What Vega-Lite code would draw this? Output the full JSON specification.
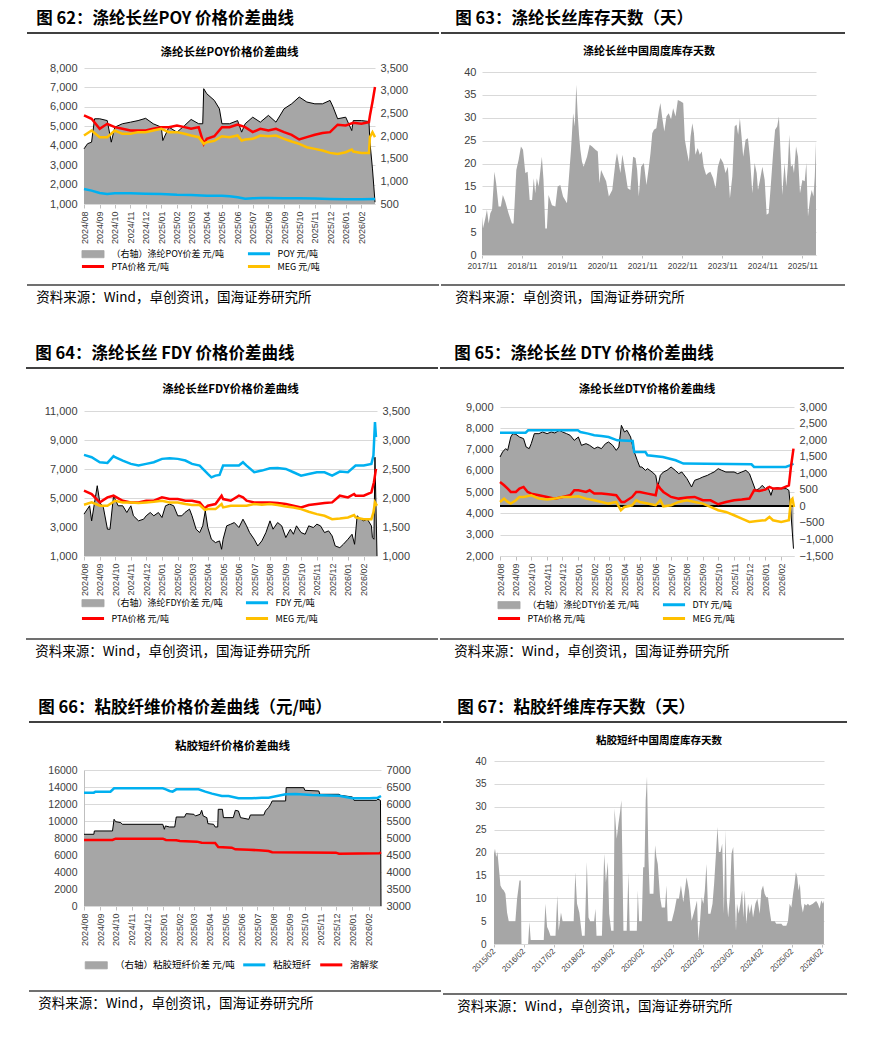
{
"$schema": "https://vega.github.io/schema/vega-lite/v6.json",
"background": "white",
"padding": {"left": 25, "top": 10, "right": 0, "bottom": 0},
"config": {
 "view": {"stroke": null},
 "font": "Liberation Sans",
 "axis": {"labelFont": "Liberation Sans", "labelColor": "#404040", "labelFontSize": 11, "ticks": false, "domain": false, "grid": false, "labelOverlap": false},
 "title": {"font": "Noto Sans CJK SC", "color": "#000000"},
 "legend": {"orient": "bottom", "direction": "horizontal", "symbolSize": 169, "symbolOffset": 4.5, "labelOffset": 14, "labelFont": "Noto Sans CJK SC", "labelFontSize": 9, "labelColor": "#000000", "labelLimit": 400, "rowPadding": 0, "columnPadding": 16, "offset": 10}
},
"datasets": {
 "poy_s": [{"d":"2024-08-01","v":1716},{"d":"2024-08-08","v":1830},{"d":"2024-08-16","v":1864},{"d":"2024-08-22","v":2380},{"d":"2024-09-01","v":2380},{"d":"2024-09-16","v":2340},{"d":"2024-09-24","v":1864},{"d":"2024-10-01","v":2195},{"d":"2024-10-16","v":2270},{"d":"2024-11-01","v":2305},{"d":"2024-11-16","v":2340},{"d":"2024-12-01","v":2390},{"d":"2024-12-16","v":2270},{"d":"2025-01-01","v":2195},{"d":"2025-01-04","v":1900},{"d":"2025-01-16","v":2195},{"d":"2025-02-01","v":2085},{"d":"2025-02-16","v":2230},{"d":"2025-03-01","v":2365},{"d":"2025-03-16","v":2270},{"d":"2025-03-24","v":2270},{"d":"2025-03-26","v":3043},{"d":"2025-04-01","v":2932},{"d":"2025-04-16","v":2785},{"d":"2025-04-26","v":2600},{"d":"2025-05-01","v":2270},{"d":"2025-05-16","v":2270},{"d":"2025-06-01","v":2340},{"d":"2025-06-09","v":2085},{"d":"2025-06-16","v":2270},{"d":"2025-07-01","v":2415},{"d":"2025-07-16","v":2305},{"d":"2025-08-01","v":2455},{"d":"2025-08-16","v":2305},{"d":"2025-09-01","v":2600},{"d":"2025-09-16","v":2710},{"d":"2025-10-01","v":2860},{"d":"2025-10-16","v":2750},{"d":"2025-11-01","v":2710},{"d":"2025-11-16","v":2710},{"d":"2025-12-01","v":2785},{"d":"2025-12-07","v":2640},{"d":"2025-12-16","v":2380},{"d":"2026-01-01","v":2415},{"d":"2026-01-13","v":2120},{"d":"2026-01-16","v":2340},{"d":"2026-02-01","v":2340},{"d":"2026-02-16","v":2320},{"d":"2026-02-18","v":1864},{"d":"2026-02-23","v":1274},{"d":"2026-02-28","v":540}],
 "poy_p": [{"d":"2024-08-01","v":1774},{"d":"2024-08-16","v":1688},{"d":"2024-09-01","v":1567},{"d":"2024-09-16","v":1516},{"d":"2024-10-01","v":1550},{"d":"2024-11-01","v":1550},{"d":"2024-12-01","v":1530},{"d":"2025-01-01","v":1516},{"d":"2025-02-01","v":1470},{"d":"2025-03-01","v":1464},{"d":"2025-04-01","v":1430},{"d":"2025-05-01","v":1430},{"d":"2025-05-16","v":1400},{"d":"2025-06-01","v":1350},{"d":"2025-06-16","v":1270},{"d":"2025-07-01","v":1290},{"d":"2025-07-16","v":1310},{"d":"2025-08-01","v":1310},{"d":"2025-09-01","v":1300},{"d":"2025-10-01","v":1290},{"d":"2025-11-01","v":1280},{"d":"2025-12-01","v":1258},{"d":"2026-01-01","v":1240},{"d":"2026-02-01","v":1240},{"d":"2026-02-28","v":1258}],
 "poy_pta": [{"d":"2024-08-01","v":5558},{"d":"2024-08-16","v":5386},{"d":"2024-09-01","v":4870},{"d":"2024-09-16","v":5128},{"d":"2024-10-01","v":4956},{"d":"2024-10-16","v":4870},{"d":"2024-11-01","v":4784},{"d":"2024-11-16","v":4784},{"d":"2024-12-01","v":4784},{"d":"2024-12-16","v":4870},{"d":"2025-01-01","v":4956},{"d":"2025-01-16","v":4956},{"d":"2025-02-01","v":5042},{"d":"2025-02-16","v":4956},{"d":"2025-03-01","v":4870},{"d":"2025-03-16","v":4956},{"d":"2025-03-26","v":4096},{"d":"2025-04-01","v":4354},{"d":"2025-04-16","v":4490},{"d":"2025-05-01","v":4956},{"d":"2025-05-16","v":4956},{"d":"2025-06-01","v":5090},{"d":"2025-06-16","v":4956},{"d":"2025-07-01","v":4698},{"d":"2025-07-16","v":4870},{"d":"2025-08-01","v":4784},{"d":"2025-08-16","v":4870},{"d":"2025-09-01","v":4698},{"d":"2025-09-16","v":4560},{"d":"2025-10-01","v":4320},{"d":"2025-10-16","v":4440},{"d":"2025-11-01","v":4560},{"d":"2025-11-16","v":4650},{"d":"2025-12-01","v":4698},{"d":"2025-12-16","v":5080},{"d":"2026-01-01","v":5042},{"d":"2026-01-16","v":5180},{"d":"2026-02-01","v":5128},{"d":"2026-02-16","v":5214},{"d":"2026-02-18","v":5558},{"d":"2026-02-23","v":6246},{"d":"2026-02-28","v":7020}],
 "poy_meg": [{"d":"2024-08-01","v":4526},{"d":"2024-08-16","v":4784},{"d":"2024-09-01","v":4440},{"d":"2024-09-16","v":4440},{"d":"2024-10-01","v":4784},{"d":"2024-10-16","v":4612},{"d":"2024-11-01","v":4612},{"d":"2024-11-16","v":4698},{"d":"2024-12-01","v":4698},{"d":"2024-12-16","v":4784},{"d":"2025-01-01","v":4870},{"d":"2025-01-16","v":4698},{"d":"2025-02-01","v":4698},{"d":"2025-02-16","v":4612},{"d":"2025-03-01","v":4526},{"d":"2025-03-16","v":4440},{"d":"2025-03-26","v":4096},{"d":"2025-04-01","v":4182},{"d":"2025-04-16","v":4250},{"d":"2025-05-01","v":4490},{"d":"2025-05-16","v":4440},{"d":"2025-06-01","v":4526},{"d":"2025-06-09","v":4268},{"d":"2025-06-16","v":4320},{"d":"2025-07-01","v":4354},{"d":"2025-07-16","v":4526},{"d":"2025-08-01","v":4490},{"d":"2025-08-16","v":4526},{"d":"2025-09-01","v":4354},{"d":"2025-09-16","v":4215},{"d":"2025-10-01","v":4096},{"d":"2025-10-16","v":3924},{"d":"2025-11-01","v":3838},{"d":"2025-11-16","v":3752},{"d":"2025-12-01","v":3631},{"d":"2025-12-16","v":3580},{"d":"2026-01-01","v":3666},{"d":"2026-01-13","v":3803},{"d":"2026-01-16","v":3700},{"d":"2026-02-01","v":3631},{"d":"2026-02-16","v":3631},{"d":"2026-02-18","v":4440},{"d":"2026-02-23","v":4698},{"d":"2026-02-28","v":4440}],
 "inv1": [{"d":"2017-11-01","v":8.4},{"d":"2017-11-10","v":5.8},{"d":"2017-12-01","v":8},{"d":"2017-12-16","v":9.9},{"d":"2018-01-01","v":6.9},{"d":"2018-01-16","v":9.1},{"d":"2018-02-01","v":9.9},{"d":"2018-02-22","v":18.2},{"d":"2018-03-10","v":15.7},{"d":"2018-04-01","v":10.6},{"d":"2018-04-22","v":10.6},{"d":"2018-05-10","v":13.1},{"d":"2018-06-01","v":11.7},{"d":"2018-07-01","v":9.1},{"d":"2018-08-01","v":6.9},{"d":"2018-08-16","v":6.9},{"d":"2018-09-10","v":18.6},{"d":"2018-10-01","v":20.8},{"d":"2018-10-22","v":23.7},{"d":"2018-11-10","v":23},{"d":"2018-12-01","v":17.9},{"d":"2018-12-22","v":18.2},{"d":"2019-01-10","v":12},{"d":"2019-02-01","v":12},{"d":"2019-02-16","v":16.8},{"d":"2019-03-01","v":13.5},{"d":"2019-03-16","v":16.8},{"d":"2019-04-01","v":15},{"d":"2019-05-01","v":21.5},{"d":"2019-05-16","v":16.4},{"d":"2019-06-01","v":5.8},{"d":"2019-06-16","v":5.8},{"d":"2019-07-01","v":13.1},{"d":"2019-08-01","v":10.9},{"d":"2019-09-01","v":10.6},{"d":"2019-09-22","v":15},{"d":"2019-10-16","v":15.3},{"d":"2019-11-10","v":12.8},{"d":"2019-12-16","v":11.3},{"d":"2020-01-10","v":19.3},{"d":"2020-01-22","v":23},{"d":"2020-02-10","v":31},{"d":"2020-02-25","v":28.1},{"d":"2020-03-10","v":37.2},{"d":"2020-03-22","v":31},{"d":"2020-04-04","v":26.3},{"d":"2020-04-16","v":23},{"d":"2020-05-01","v":20.4},{"d":"2020-05-16","v":19.3},{"d":"2020-06-16","v":21.5},{"d":"2020-07-10","v":24.1},{"d":"2020-08-01","v":23.7},{"d":"2020-09-01","v":23},{"d":"2020-09-22","v":22.6},{"d":"2020-10-07","v":15.7},{"d":"2020-10-22","v":18.6},{"d":"2020-11-16","v":17.2},{"d":"2020-12-07","v":16.1},{"d":"2021-01-01","v":12.8},{"d":"2021-02-01","v":14.2},{"d":"2021-03-01","v":20.1},{"d":"2021-03-16","v":22.3},{"d":"2021-04-16","v":17.9},{"d":"2021-05-04","v":21.9},{"d":"2021-06-01","v":17.9},{"d":"2021-06-22","v":14.6},{"d":"2021-07-16","v":14.2},{"d":"2021-08-10","v":21.5},{"d":"2021-09-01","v":21.2},{"d":"2021-09-16","v":18.6},{"d":"2021-10-01","v":12.8},{"d":"2021-10-22","v":19.3},{"d":"2021-11-16","v":20.1},{"d":"2021-12-10","v":15.3},{"d":"2022-01-01","v":19.3},{"d":"2022-01-16","v":22.3},{"d":"2022-02-01","v":26.6},{"d":"2022-02-16","v":27.4},{"d":"2022-03-10","v":27.7},{"d":"2022-04-01","v":31.4},{"d":"2022-04-16","v":33.2},{"d":"2022-05-01","v":30.3},{"d":"2022-05-22","v":27},{"d":"2022-06-10","v":30.3},{"d":"2022-07-01","v":31},{"d":"2022-07-22","v":29.6},{"d":"2022-08-10","v":32.1},{"d":"2022-09-01","v":30.3},{"d":"2022-09-22","v":33.9},{"d":"2022-10-16","v":33.6},{"d":"2022-11-10","v":33.2},{"d":"2022-11-25","v":25.2},{"d":"2022-12-16","v":22.3},{"d":"2023-01-01","v":20.4},{"d":"2023-01-16","v":25.9},{"d":"2023-02-01","v":28.8},{"d":"2023-02-16","v":26.6},{"d":"2023-03-01","v":21.9},{"d":"2023-03-22","v":23.4},{"d":"2023-04-10","v":21.9},{"d":"2023-04-28","v":22.6},{"d":"2023-05-16","v":19.3},{"d":"2023-06-07","v":17.5},{"d":"2023-06-25","v":17.9},{"d":"2023-07-16","v":18.2},{"d":"2023-08-10","v":16.8},{"d":"2023-09-01","v":14.6},{"d":"2023-09-22","v":19.3},{"d":"2023-10-16","v":21.2},{"d":"2023-11-10","v":20.1},{"d":"2023-12-01","v":17.9},{"d":"2023-12-22","v":19.3},{"d":"2024-01-10","v":12.4},{"d":"2024-02-01","v":17.2},{"d":"2024-02-22","v":28.1},{"d":"2024-03-10","v":28.5},{"d":"2024-03-25","v":26.3},{"d":"2024-04-10","v":29.9},{"d":"2024-04-25","v":25.9},{"d":"2024-05-10","v":21.5},{"d":"2024-06-01","v":25.2},{"d":"2024-06-22","v":25.5},{"d":"2024-07-10","v":21.5},{"d":"2024-08-01","v":13.5},{"d":"2024-08-22","v":20.1},{"d":"2024-09-10","v":17.9},{"d":"2024-09-22","v":14.2},{"d":"2024-10-10","v":16.4},{"d":"2024-11-01","v":19.3},{"d":"2024-11-22","v":16.4},{"d":"2024-12-10","v":8.8},{"d":"2024-12-28","v":9.1},{"d":"2025-01-16","v":15},{"d":"2025-02-07","v":22.3},{"d":"2025-02-25","v":27.4},{"d":"2025-03-16","v":28.1},{"d":"2025-04-01","v":30.3},{"d":"2025-04-16","v":22.3},{"d":"2025-05-01","v":13.1},{"d":"2025-05-22","v":20.1},{"d":"2025-06-07","v":15},{"d":"2025-06-22","v":19.7},{"d":"2025-07-04","v":26.3},{"d":"2025-07-19","v":19.3},{"d":"2025-08-04","v":19.7},{"d":"2025-08-16","v":17.9},{"d":"2025-09-04","v":23.7},{"d":"2025-09-22","v":21.5},{"d":"2025-10-10","v":13.5},{"d":"2025-11-01","v":16.4},{"d":"2025-11-22","v":16.1},{"d":"2025-12-07","v":20.1},{"d":"2025-12-22","v":8.4},{"d":"2026-01-10","v":12.4},{"d":"2026-01-25","v":14.2},{"d":"2026-02-10","v":12.8},{"d":"2026-02-22","v":17.2},{"d":"2026-03-05","v":24.8}],
 "fdy_s": [{"d":"2024-08-01","v":1722},{"d":"2024-08-12","v":1866},{"d":"2024-08-16","v":1606},{"d":"2024-08-27","v":2212},{"d":"2024-09-01","v":1924},{"d":"2024-09-08","v":1837},{"d":"2024-09-16","v":1462},{"d":"2024-09-21","v":1462},{"d":"2024-09-28","v":2040},{"d":"2024-10-01","v":1982},{"d":"2024-10-07","v":1866},{"d":"2024-10-16","v":1866},{"d":"2024-10-24","v":1750},{"d":"2024-11-01","v":1866},{"d":"2024-11-06","v":1693},{"d":"2024-11-16","v":1606},{"d":"2024-11-26","v":1635},{"d":"2024-12-01","v":1693},{"d":"2024-12-09","v":1750},{"d":"2024-12-16","v":1693},{"d":"2024-12-25","v":1750},{"d":"2025-01-01","v":1664},{"d":"2025-01-08","v":1866},{"d":"2025-01-16","v":1895},{"d":"2025-01-24","v":1866},{"d":"2025-02-01","v":1693},{"d":"2025-02-09","v":1693},{"d":"2025-02-15","v":1750},{"d":"2025-02-24","v":1808},{"d":"2025-03-01","v":1693},{"d":"2025-03-09","v":1462},{"d":"2025-03-16","v":1404},{"d":"2025-03-22","v":1520},{"d":"2025-03-27","v":1779},{"d":"2025-04-01","v":1491},{"d":"2025-04-08","v":1289},{"d":"2025-04-16","v":1231},{"d":"2025-04-24","v":1260},{"d":"2025-04-28","v":1116},{"d":"2025-05-01","v":1289},{"d":"2025-05-08","v":1520},{"d":"2025-05-16","v":1549},{"d":"2025-05-23","v":1577},{"d":"2025-06-01","v":1491},{"d":"2025-06-09","v":1635},{"d":"2025-06-16","v":1520},{"d":"2025-06-22","v":1404},{"d":"2025-07-01","v":1289},{"d":"2025-07-08","v":1173},{"d":"2025-07-16","v":1260},{"d":"2025-07-24","v":1404},{"d":"2025-08-01","v":1606},{"d":"2025-08-07","v":1462},{"d":"2025-08-16","v":1577},{"d":"2025-08-24","v":1520},{"d":"2025-09-01","v":1318},{"d":"2025-09-10","v":1462},{"d":"2025-09-16","v":1375},{"d":"2025-09-22","v":1520},{"d":"2025-10-01","v":1404},{"d":"2025-10-09","v":1375},{"d":"2025-10-16","v":1520},{"d":"2025-10-25","v":1491},{"d":"2025-11-01","v":1549},{"d":"2025-11-08","v":1520},{"d":"2025-11-16","v":1404},{"d":"2025-11-24","v":1433},{"d":"2025-12-01","v":1346},{"d":"2025-12-07","v":1173},{"d":"2025-12-16","v":1144},{"d":"2025-12-23","v":1202},{"d":"2026-01-01","v":1289},{"d":"2026-01-09","v":1375},{"d":"2026-01-14","v":1202},{"d":"2026-01-19","v":1693},{"d":"2026-01-26","v":1635},{"d":"2026-02-01","v":1606},{"d":"2026-02-08","v":1635},{"d":"2026-02-16","v":1520},{"d":"2026-02-18","v":1318},{"d":"2026-02-21","v":1289},{"d":"2026-02-23","v":2703},{"d":"2026-02-25","v":1866},{"d":"2026-02-27","v":1000}],
 "fdy_p": [{"d":"2024-08-01","v":7975},{"d":"2024-08-16","v":7814},{"d":"2024-09-01","v":7467},{"d":"2024-09-16","v":7421},{"d":"2024-09-28","v":7883},{"d":"2024-10-01","v":7814},{"d":"2024-10-16","v":7583},{"d":"2024-11-01","v":7352},{"d":"2024-11-16","v":7236},{"d":"2024-12-01","v":7352},{"d":"2024-12-16","v":7467},{"d":"2025-01-01","v":7698},{"d":"2025-01-16","v":7744},{"d":"2025-02-01","v":7698},{"d":"2025-02-16","v":7583},{"d":"2025-03-01","v":7352},{"d":"2025-03-16","v":7236},{"d":"2025-04-01","v":6659},{"d":"2025-04-08","v":6428},{"d":"2025-04-16","v":6544},{"d":"2025-04-24","v":6590},{"d":"2025-05-01","v":7236},{"d":"2025-05-16","v":7236},{"d":"2025-06-01","v":7236},{"d":"2025-06-09","v":7467},{"d":"2025-06-16","v":7236},{"d":"2025-07-01","v":6775},{"d":"2025-07-16","v":6890},{"d":"2025-08-01","v":7052},{"d":"2025-08-16","v":7075},{"d":"2025-09-01","v":7005},{"d":"2025-09-16","v":6775},{"d":"2025-10-01","v":6544},{"d":"2025-10-16","v":6659},{"d":"2025-11-01","v":6775},{"d":"2025-11-16","v":6775},{"d":"2025-12-01","v":6544},{"d":"2025-12-16","v":6821},{"d":"2026-01-01","v":6775},{"d":"2026-01-16","v":7236},{"d":"2026-02-01","v":7236},{"d":"2026-02-16","v":7352},{"d":"2026-02-20","v":7929},{"d":"2026-02-23","v":10238},{"d":"2026-02-25","v":9200}],
 "fdy_pta": [{"d":"2024-08-01","v":5504},{"d":"2024-08-16","v":5274},{"d":"2024-09-01","v":4696},{"d":"2024-09-16","v":5043},{"d":"2024-09-28","v":5158},{"d":"2024-10-16","v":4812},{"d":"2024-11-01","v":4696},{"d":"2024-11-16","v":4696},{"d":"2024-12-01","v":4812},{"d":"2024-12-16","v":4812},{"d":"2025-01-01","v":5043},{"d":"2025-01-16","v":4927},{"d":"2025-02-01","v":4927},{"d":"2025-02-16","v":4812},{"d":"2025-03-01","v":4812},{"d":"2025-03-16","v":4696},{"d":"2025-03-26","v":4280},{"d":"2025-04-01","v":4465},{"d":"2025-04-16","v":4581},{"d":"2025-04-28","v":5158},{"d":"2025-05-01","v":4927},{"d":"2025-05-16","v":4812},{"d":"2025-06-01","v":5158},{"d":"2025-06-09","v":5043},{"d":"2025-06-16","v":4812},{"d":"2025-07-01","v":4696},{"d":"2025-07-16","v":4696},{"d":"2025-08-01","v":4696},{"d":"2025-08-16","v":4650},{"d":"2025-09-01","v":4581},{"d":"2025-09-16","v":4465},{"d":"2025-10-01","v":4350},{"d":"2025-10-16","v":4512},{"d":"2025-11-01","v":4581},{"d":"2025-11-16","v":4650},{"d":"2025-12-01","v":4696},{"d":"2025-12-16","v":5158},{"d":"2026-01-01","v":5043},{"d":"2026-01-13","v":5274},{"d":"2026-01-16","v":5158},{"d":"2026-02-01","v":5158},{"d":"2026-02-16","v":5389},{"d":"2026-02-21","v":6082},{"d":"2026-02-25","v":7006}],
 "fdy_meg": [{"d":"2024-08-01","v":4535},{"d":"2024-08-16","v":4696},{"d":"2024-09-01","v":4465},{"d":"2024-09-16","v":4465},{"d":"2024-10-01","v":4812},{"d":"2024-10-16","v":4696},{"d":"2024-11-01","v":4696},{"d":"2024-11-16","v":4650},{"d":"2024-12-01","v":4696},{"d":"2024-12-16","v":4743},{"d":"2025-01-01","v":4812},{"d":"2025-01-16","v":4696},{"d":"2025-02-01","v":4696},{"d":"2025-02-16","v":4581},{"d":"2025-03-01","v":4512},{"d":"2025-03-16","v":4512},{"d":"2025-03-26","v":4188},{"d":"2025-04-01","v":4235},{"d":"2025-04-16","v":4235},{"d":"2025-04-28","v":4581},{"d":"2025-05-01","v":4350},{"d":"2025-05-16","v":4465},{"d":"2025-06-01","v":4465},{"d":"2025-06-16","v":4465},{"d":"2025-07-01","v":4581},{"d":"2025-07-16","v":4535},{"d":"2025-08-01","v":4581},{"d":"2025-08-16","v":4512},{"d":"2025-09-01","v":4419},{"d":"2025-09-16","v":4350},{"d":"2025-10-01","v":4235},{"d":"2025-10-16","v":4050},{"d":"2025-11-01","v":3889},{"d":"2025-11-16","v":3773},{"d":"2025-12-01","v":3542},{"d":"2025-12-16","v":3588},{"d":"2026-01-01","v":3657},{"d":"2026-01-13","v":3819},{"d":"2026-01-16","v":3657},{"d":"2026-02-01","v":3542},{"d":"2026-02-16","v":3542},{"d":"2026-02-20","v":4004},{"d":"2026-02-23","v":4696},{"d":"2026-02-27","v":4465}],
 "dty_s": [{"d":"2024-08-01","v":1490},{"d":"2024-08-06","v":1641},{"d":"2024-08-12","v":1742},{"d":"2024-08-16","v":1691},{"d":"2024-08-22","v":2094},{"d":"2024-08-26","v":2195},{"d":"2024-09-01","v":2175},{"d":"2024-09-08","v":2094},{"d":"2024-09-16","v":2044},{"d":"2024-09-21","v":1792},{"d":"2024-09-27","v":1742},{"d":"2024-10-01","v":1893},{"d":"2024-10-07","v":2195},{"d":"2024-10-16","v":2195},{"d":"2024-10-23","v":2245},{"d":"2024-11-01","v":2195},{"d":"2024-11-09","v":2245},{"d":"2024-11-16","v":2215},{"d":"2024-11-25","v":2295},{"d":"2024-12-01","v":2245},{"d":"2024-12-09","v":2195},{"d":"2024-12-16","v":2144},{"d":"2024-12-24","v":1993},{"d":"2025-01-01","v":2094},{"d":"2025-01-07","v":1842},{"d":"2025-01-16","v":1893},{"d":"2025-01-23","v":1842},{"d":"2025-02-01","v":1742},{"d":"2025-02-08","v":1792},{"d":"2025-02-15","v":1742},{"d":"2025-02-23","v":1893},{"d":"2025-03-01","v":1943},{"d":"2025-03-09","v":1842},{"d":"2025-03-16","v":1691},{"d":"2025-03-21","v":1792},{"d":"2025-03-26","v":2446},{"d":"2025-04-01","v":2245},{"d":"2025-04-06","v":2295},{"d":"2025-04-13","v":2094},{"d":"2025-04-19","v":1691},{"d":"2025-04-26","v":1389},{"d":"2025-05-01","v":1188},{"d":"2025-05-05","v":1188},{"d":"2025-05-12","v":1087},{"d":"2025-05-16","v":1138},{"d":"2025-05-25","v":1037},{"d":"2025-06-01","v":936},{"d":"2025-06-05","v":584},{"d":"2025-06-10","v":936},{"d":"2025-06-16","v":1037},{"d":"2025-06-23","v":1087},{"d":"2025-07-01","v":1188},{"d":"2025-07-09","v":1087},{"d":"2025-07-16","v":987},{"d":"2025-07-22","v":1037},{"d":"2025-08-01","v":836},{"d":"2025-08-10","v":584},{"d":"2025-08-16","v":785},{"d":"2025-08-25","v":836},{"d":"2025-09-01","v":886},{"d":"2025-09-10","v":936},{"d":"2025-09-16","v":987},{"d":"2025-09-23","v":1037},{"d":"2025-10-01","v":1138},{"d":"2025-10-08","v":1087},{"d":"2025-10-16","v":1037},{"d":"2025-10-24","v":1037},{"d":"2025-11-01","v":1037},{"d":"2025-11-08","v":987},{"d":"2025-11-16","v":1037},{"d":"2025-11-24","v":1087},{"d":"2025-12-01","v":987},{"d":"2025-12-07","v":735},{"d":"2025-12-13","v":483},{"d":"2025-12-20","v":534},{"d":"2025-12-26","v":634},{"d":"2026-01-01","v":534},{"d":"2026-01-06","v":584},{"d":"2026-01-12","v":332},{"d":"2026-01-16","v":534},{"d":"2026-01-25","v":564},{"d":"2026-02-01","v":534},{"d":"2026-02-11","v":534},{"d":"2026-02-16","v":483},{"d":"2026-02-19","v":0},{"d":"2026-02-22","v":-624},{"d":"2026-02-25","v":-1278}],
 "dty_p": [{"d":"2024-08-01","v":7795},{"d":"2024-09-20","v":7795},{"d":"2024-09-25","v":7905},{"d":"2024-12-31","v":7905},{"d":"2025-01-05","v":7826},{"d":"2025-01-20","v":7748},{"d":"2025-02-01","v":7670},{"d":"2025-02-15","v":7638},{"d":"2025-03-01","v":7592},{"d":"2025-03-18","v":7435},{"d":"2025-04-17","v":7404},{"d":"2025-04-20","v":6887},{"d":"2025-05-12","v":6887},{"d":"2025-05-16","v":6731},{"d":"2025-06-15","v":6653},{"d":"2025-07-10","v":6496},{"d":"2025-07-25","v":6340},{"d":"2025-12-05","v":6308},{"d":"2025-12-10","v":6183},{"d":"2026-02-10","v":6183},{"d":"2026-02-18","v":6261},{"d":"2026-02-25","v":6340}],
 "dty_pta": [{"d":"2024-08-01","v":5479},{"d":"2024-08-09","v":5322},{"d":"2024-08-16","v":5166},{"d":"2024-08-22","v":5009},{"d":"2024-09-01","v":5009},{"d":"2024-09-08","v":5166},{"d":"2024-09-16","v":5244},{"d":"2024-09-24","v":5009},{"d":"2024-10-01","v":4931},{"d":"2024-10-16","v":4853},{"d":"2024-11-01","v":4775},{"d":"2024-11-16","v":4696},{"d":"2024-12-01","v":4775},{"d":"2024-12-16","v":4853},{"d":"2024-12-24","v":5087},{"d":"2025-01-01","v":5087},{"d":"2025-01-16","v":5009},{"d":"2025-01-23","v":5087},{"d":"2025-02-01","v":4931},{"d":"2025-02-15","v":4931},{"d":"2025-03-01","v":4900},{"d":"2025-03-16","v":4853},{"d":"2025-03-26","v":4540},{"d":"2025-04-01","v":4540},{"d":"2025-04-16","v":4775},{"d":"2025-04-24","v":5009},{"d":"2025-05-01","v":5009},{"d":"2025-05-16","v":4931},{"d":"2025-06-01","v":4853},{"d":"2025-06-05","v":5322},{"d":"2025-06-10","v":5166},{"d":"2025-06-16","v":5009},{"d":"2025-07-01","v":4775},{"d":"2025-07-16","v":4696},{"d":"2025-08-01","v":4743},{"d":"2025-08-16","v":4775},{"d":"2025-09-01","v":4618},{"d":"2025-09-16","v":4618},{"d":"2025-10-01","v":4430},{"d":"2025-10-16","v":4540},{"d":"2025-11-01","v":4618},{"d":"2025-11-16","v":4649},{"d":"2025-12-01","v":4696},{"d":"2025-12-10","v":5087},{"d":"2025-12-20","v":5056},{"d":"2026-01-01","v":5118},{"d":"2026-01-09","v":5244},{"d":"2026-01-16","v":5166},{"d":"2026-02-01","v":5166},{"d":"2026-02-16","v":5322},{"d":"2026-02-20","v":6183},{"d":"2026-02-25","v":7044}],
 "dty_meg": [{"d":"2024-08-01","v":4540},{"d":"2024-08-09","v":4696},{"d":"2024-08-16","v":4540},{"d":"2024-08-22","v":4462},{"d":"2024-09-01","v":4618},{"d":"2024-09-08","v":4775},{"d":"2024-09-16","v":4775},{"d":"2024-10-01","v":4853},{"d":"2024-10-16","v":4696},{"d":"2024-11-01","v":4649},{"d":"2024-11-16","v":4696},{"d":"2024-12-01","v":4775},{"d":"2024-12-16","v":4775},{"d":"2025-01-01","v":4806},{"d":"2025-01-16","v":4696},{"d":"2025-02-01","v":4618},{"d":"2025-02-15","v":4540},{"d":"2025-03-01","v":4462},{"d":"2025-03-16","v":4540},{"d":"2025-03-25","v":4149},{"d":"2025-04-01","v":4305},{"d":"2025-04-16","v":4384},{"d":"2025-04-24","v":4618},{"d":"2025-05-01","v":4540},{"d":"2025-05-16","v":4462},{"d":"2025-06-01","v":4384},{"d":"2025-06-10","v":4618},{"d":"2025-06-16","v":4336},{"d":"2025-07-01","v":4384},{"d":"2025-07-16","v":4540},{"d":"2025-08-01","v":4618},{"d":"2025-08-16","v":4540},{"d":"2025-09-01","v":4462},{"d":"2025-09-16","v":4305},{"d":"2025-10-01","v":4149},{"d":"2025-10-16","v":4070},{"d":"2025-11-01","v":3914},{"d":"2025-11-16","v":3758},{"d":"2025-12-01","v":3601},{"d":"2025-12-16","v":3648},{"d":"2026-01-01","v":3679},{"d":"2026-01-09","v":3836},{"d":"2026-01-16","v":3679},{"d":"2026-02-01","v":3601},{"d":"2026-02-16","v":3679},{"d":"2026-02-20","v":4618},{"d":"2026-02-23","v":4696},{"d":"2026-02-26","v":4305}],
 "vis_s": [{"d":"2024-08-01","v":5109},{"d":"2024-08-20","v":5109},{"d":"2024-08-21","v":5207},{"d":"2024-09-25","v":5207},{"d":"2024-09-28","v":5550},{"d":"2024-10-01","v":5481},{"d":"2024-10-11","v":5452},{"d":"2024-10-14","v":5403},{"d":"2024-12-31","v":5403},{"d":"2025-01-03","v":5256},{"d":"2025-01-05","v":5354},{"d":"2025-01-13","v":5324},{"d":"2025-01-23","v":5324},{"d":"2025-01-26","v":5618},{"d":"2025-02-11","v":5618},{"d":"2025-02-14","v":5716},{"d":"2025-03-01","v":5697},{"d":"2025-03-04","v":5648},{"d":"2025-03-13","v":5697},{"d":"2025-03-16","v":5814},{"d":"2025-03-19","v":5648},{"d":"2025-03-26","v":5599},{"d":"2025-03-28","v":5422},{"d":"2025-04-08","v":5403},{"d":"2025-04-11","v":5324},{"d":"2025-04-16","v":5324},{"d":"2025-04-17","v":5844},{"d":"2025-04-25","v":5844},{"d":"2025-04-27","v":5599},{"d":"2025-05-16","v":5599},{"d":"2025-05-20","v":5814},{"d":"2025-05-26","v":5795},{"d":"2025-05-30","v":5599},{"d":"2025-06-15","v":5550},{"d":"2025-06-18","v":5677},{"d":"2025-07-14","v":5677},{"d":"2025-07-17","v":5795},{"d":"2025-07-23","v":5893},{"d":"2025-07-27","v":5991},{"d":"2025-07-30","v":6089},{"d":"2025-08-25","v":6089},{"d":"2025-08-26","v":6481},{"d":"2025-09-29","v":6481},{"d":"2025-10-01","v":6402},{"d":"2025-10-28","v":6383},{"d":"2025-10-30","v":6285},{"d":"2025-12-06","v":6285},{"d":"2025-12-09","v":6255},{"d":"2026-01-01","v":6206},{"d":"2026-01-04","v":6108},{"d":"2026-02-16","v":6108},{"d":"2026-02-19","v":6138},{"d":"2026-02-24","v":6108},{"d":"2026-02-25","v":3000}],
 "vis_p": [{"d":"2024-08-01","v":13334},{"d":"2024-08-20","v":13334},{"d":"2024-08-23","v":13452},{"d":"2024-09-21","v":13452},{"d":"2024-09-28","v":13844},{"d":"2024-12-31","v":13844},{"d":"2025-01-06","v":13726},{"d":"2025-01-13","v":13530},{"d":"2025-01-19","v":13452},{"d":"2025-01-26","v":13726},{"d":"2025-03-10","v":13726},{"d":"2025-03-23","v":13452},{"d":"2025-04-05","v":13217},{"d":"2025-04-24","v":12942},{"d":"2025-05-07","v":12942},{"d":"2025-05-26","v":12668},{"d":"2025-06-21","v":12668},{"d":"2025-07-10","v":12746},{"d":"2025-07-23","v":12746},{"d":"2025-08-25","v":13138},{"d":"2025-09-13","v":13178},{"d":"2025-10-15","v":13060},{"d":"2025-12-06","v":12982},{"d":"2026-01-01","v":12668},{"d":"2026-02-03","v":12668},{"d":"2026-02-19","v":12746},{"d":"2026-02-25","v":12942}],
 "vis_pulp": [{"d":"2024-08-01","v":7768},{"d":"2024-09-25","v":7768},{"d":"2024-10-01","v":7925},{"d":"2024-12-31","v":7925},{"d":"2025-01-06","v":7768},{"d":"2025-01-26","v":7729},{"d":"2025-02-02","v":7650},{"d":"2025-03-07","v":7572},{"d":"2025-03-16","v":7454},{"d":"2025-04-11","v":7415},{"d":"2025-04-17","v":6945},{"d":"2025-05-13","v":6866},{"d":"2025-05-20","v":6670},{"d":"2025-06-15","v":6631},{"d":"2025-07-04","v":6552},{"d":"2025-07-23","v":6474},{"d":"2025-07-30","v":6318},{"d":"2025-11-30","v":6278},{"d":"2025-12-06","v":6161},{"d":"2026-02-22","v":6200},{"d":"2026-02-25","v":6318}],
 "inv2": [{"d":"2015-02-01","v":19.7},{"d":"2015-02-13","v":20.8},{"d":"2015-03-01","v":19},{"d":"2015-03-15","v":20.1},{"d":"2015-04-01","v":16.8},{"d":"2015-04-21","v":12.8},{"d":"2015-05-11","v":12.1},{"d":"2015-06-01","v":11.7},{"d":"2015-06-21","v":11},{"d":"2015-07-11","v":6.9},{"d":"2015-08-01","v":5},{"d":"2015-10-21","v":5},{"d":"2015-11-11","v":9.9},{"d":"2015-12-10","v":13.9},{"d":"2015-12-26","v":13.9},{"d":"2016-01-04","v":0},{"d":"2016-03-25","v":0},{"d":"2016-04-10","v":4.8},{"d":"2016-04-26","v":0.9},{"d":"2016-10-03","v":0.9},{"d":"2016-10-23","v":8.8},{"d":"2016-11-13","v":3.7},{"d":"2016-12-04","v":2.9},{"d":"2016-12-24","v":1.8},{"d":"2017-02-24","v":1.8},{"d":"2017-03-18","v":10.6},{"d":"2017-04-04","v":2.9},{"d":"2017-05-02","v":6.9},{"d":"2017-05-22","v":5},{"d":"2017-10-05","v":5},{"d":"2017-10-25","v":15.7},{"d":"2017-11-15","v":8.8},{"d":"2017-12-13","v":6.9},{"d":"2018-01-15","v":1.8},{"d":"2018-02-17","v":1.8},{"d":"2018-03-15","v":17.9},{"d":"2018-04-05","v":5.8},{"d":"2018-04-25","v":5},{"d":"2018-06-13","v":5},{"d":"2018-06-29","v":7.7},{"d":"2018-07-12","v":1.8},{"d":"2018-09-16","v":1.8},{"d":"2018-10-14","v":19.7},{"d":"2018-11-04","v":13.5},{"d":"2018-11-28","v":17.9},{"d":"2018-12-14","v":6.6},{"d":"2019-01-08","v":2.9},{"d":"2019-02-06","v":2.9},{"d":"2019-02-18","v":29.6},{"d":"2019-03-05","v":26},{"d":"2019-03-17","v":23},{"d":"2019-04-07","v":26.3},{"d":"2019-04-27","v":28.9},{"d":"2019-05-13","v":31.4},{"d":"2019-05-25","v":18.3},{"d":"2019-06-07","v":2.9},{"d":"2019-07-17","v":2.9},{"d":"2019-08-07","v":15.7},{"d":"2019-08-23","v":2.9},{"d":"2019-11-18","v":2.9},{"d":"2019-11-30","v":11.7},{"d":"2019-12-16","v":5},{"d":"2020-01-18","v":5},{"d":"2020-02-04","v":16.8},{"d":"2020-02-20","v":16.8},{"d":"2020-03-06","v":31.4},{"d":"2020-03-22","v":36.6},{"d":"2020-04-08","v":19},{"d":"2020-04-24","v":11},{"d":"2020-06-09","v":11},{"d":"2020-06-29","v":21.6},{"d":"2020-07-15","v":19},{"d":"2020-08-01","v":17.5},{"d":"2020-08-29","v":10.2},{"d":"2020-09-19","v":8},{"d":"2020-10-29","v":8},{"d":"2020-11-15","v":12.8},{"d":"2020-12-01","v":5},{"d":"2021-01-19","v":5},{"d":"2021-02-21","v":7.3},{"d":"2021-03-20","v":9.9},{"d":"2021-04-17","v":9.9},{"d":"2021-05-12","v":12.8},{"d":"2021-06-10","v":9.1},{"d":"2021-07-20","v":14.6},{"d":"2021-08-18","v":11.7},{"d":"2021-09-20","v":5.1},{"d":"2021-10-31","v":7.7},{"d":"2021-11-25","v":9.5},{"d":"2021-12-11","v":0.9},{"d":"2022-01-01","v":5},{"d":"2022-01-21","v":10.2},{"d":"2022-02-11","v":8.8},{"d":"2022-03-01","v":11.7},{"d":"2022-03-21","v":17.5},{"d":"2022-04-11","v":6.6},{"d":"2022-05-09","v":6.6},{"d":"2022-06-03","v":8.8},{"d":"2022-06-23","v":13.2},{"d":"2022-07-13","v":19},{"d":"2022-08-03","v":25.6},{"d":"2022-08-20","v":20.1},{"d":"2022-09-09","v":20.1},{"d":"2022-09-30","v":21.9},{"d":"2022-10-20","v":6.6},{"d":"2022-11-10","v":24.9},{"d":"2022-11-26","v":9.5},{"d":"2022-12-12","v":5.8},{"d":"2023-01-02","v":10.2},{"d":"2023-01-22","v":19.7},{"d":"2023-02-12","v":21.2},{"d":"2023-03-02","v":11},{"d":"2023-03-18","v":2.9},{"d":"2023-03-30","v":8.8},{"d":"2023-04-20","v":6.6},{"d":"2023-05-10","v":8.8},{"d":"2023-06-01","v":11.7},{"d":"2023-06-16","v":5.8},{"d":"2023-07-03","v":11.7},{"d":"2023-07-23","v":4.4},{"d":"2023-08-13","v":8.8},{"d":"2023-09-03","v":6.6},{"d":"2023-09-23","v":8.8},{"d":"2023-10-13","v":5.8},{"d":"2023-11-11","v":8.8},{"d":"2023-12-05","v":9.9},{"d":"2024-01-03","v":6.6},{"d":"2024-01-23","v":11.7},{"d":"2024-02-13","v":12.8},{"d":"2024-03-03","v":11},{"d":"2024-03-23","v":10.2},{"d":"2024-04-13","v":10.2},{"d":"2024-05-03","v":7.3},{"d":"2024-05-23","v":5},{"d":"2024-07-04","v":5},{"d":"2024-07-24","v":4.4},{"d":"2024-09-24","v":4.4},{"d":"2024-10-14","v":4},{"d":"2024-11-24","v":4},{"d":"2024-12-14","v":5},{"d":"2025-01-04","v":8.8},{"d":"2025-01-25","v":8},{"d":"2025-02-15","v":11},{"d":"2025-03-05","v":13.2},{"d":"2025-03-21","v":15.7},{"d":"2025-04-07","v":14.6},{"d":"2025-04-23","v":11.7},{"d":"2025-05-09","v":13.2},{"d":"2025-05-25","v":8.8},{"d":"2025-06-15","v":6.9},{"d":"2025-07-05","v":8.8},{"d":"2025-07-25","v":8.4},{"d":"2025-08-15","v":8.8},{"d":"2025-09-05","v":8.4},{"d":"2025-10-15","v":8.8},{"d":"2025-11-05","v":9.1},{"d":"2025-11-25","v":9.4},{"d":"2025-12-16","v":8.8},{"d":"2026-01-06","v":7.7},{"d":"2026-01-26","v":9.5},{"d":"2026-02-16","v":8.8},{"d":"2026-02-28","v":9.5}]
},
"spacing": 40,
"resolve": {"scale": {"color": "independent"}, "legend": {"color": "independent"}},
"vconcat": [
 {"hconcat": [
  {"spacing": 11, "resolve": {"scale": {"color": "independent"}, "legend": {"color": "independent"}},
   "title": {"text": "图 62：涤纶长丝POY 价格价差曲线", "anchor": "start", "frame": "bounds", "fontSize": 16.5, "fontWeight": "bold", "dx": 10, "offset": 5},
   "vconcat": [
   {"data": {"values": [{}]}, "width": 291, "height": 1, "title": {"text": " ", "orient": "bottom", "anchor": "start", "frame": "bounds", "fontSize": 1, "offset": 0}, "mark": {"type": "rule", "color": "#000000", "strokeWidth": 1.5}, "encoding": {"x": {"datum": -57, "type": "quantitative", "scale": {"domain": [0, 291], "nice": false, "zero": false}, "axis": null}, "x2": {"datum": 355}, "y": {"datum": 0, "type": "quantitative", "scale": {"domain": [0, 1]}, "axis": null}}},
   {"width": 291, "height": 136,
    "title": {"text": "涤纶长丝POY价格价差曲线", "anchor": "middle", "frame": "group", "fontSize": 11.5, "fontWeight": "bold", "offset": 4},
    "layer": [
     {"data": {"name": "poy_s"}, "layer": [
      {"mark": {"type": "area"}, "encoding": {
        "x": {"field": "d", "type": "temporal", "title": null, "scale": {"type": "utc", "nice": false, "domain": [{"year": 2024, "month": 8, "date": 1, "utc": true}, {"year": 2026, "month": 2, "date": 28, "utc": true}]}, "axis": {"format": "%Y/%m", "tickCount": {"interval": "month", "step": 1}, "labelAngle": -90, "labelAlign": "right", "labelBaseline": "middle", "labelFontSize": 9, "labelPadding": 3, "ticks": true, "tickSize": 4, "tickColor": "#bfbfbf", "domain": true, "domainColor": "#d9d9d9", "labelOverlap": false, "labelFlush": false}},
        "y": {"field": "v", "type": "quantitative", "title": null, "scale": {"domain": [500, 3500], "nice": false, "zero": false}, "axis": {"orient": "right", "values": [500, 1000, 1500, 2000, 2500, 3000, 3500], "tickCount": 30, "format": ",d", "labelPadding": 5, "labelOverlap": false}},
        "y2": {"datum": 500},
        "color": {"datum": "（右轴）涤纶POY价差 元/吨", "scale": {"domain": ["（右轴）涤纶POY价差 元/吨", "POY 元/吨", "PTA价格 元/吨", "MEG 元/吨"], "range": ["#a6a6a6", "#00b0f0", "#ff0000", "#ffc000"]},
          "legend": {"title": null, "columns": 2, "offset": 5, "encode": {"symbols": {"update": {
            "shape": {"signal": "indexof(''+datum.value,'价差')>=0 ? 'M-1.7,-0.55H1.7V0.55H-1.7Z' : 'M-1.7,0H1.7'"},
            "fill": {"signal": "indexof(''+datum.value,'价差')>=0 ? '#a6a6a6' : 'transparent'"},
            "stroke": {"signal": "indexof(''+datum.value,'价差')>=0 ? '#000000' : indexof(''+datum.value,'PTA')>=0 ? '#ff0000' : indexof(''+datum.value,'MEG')>=0 ? '#ffc000' : '#00b0f0'"},
            "strokeWidth": {"signal": "indexof(''+datum.value,'价差')>=0 ? 0.8 : 3"}}}}}}}},
      {"mark": {"type": "line", "color": "#000000", "strokeWidth": 1}, "encoding": {"x": {"field": "d", "type": "temporal", "title": null}, "y": {"field": "v", "type": "quantitative", "title": null}}}
     ]},
     {"layer": [
      {"data": {"name": "poy_p"}, "mark": {"type": "line", "strokeWidth": 2.5}, "encoding": {"x": {"field": "d", "type": "temporal", "title": null}, "y": {"field": "v", "type": "quantitative", "title": null, "scale": {"domain": [1000, 8000], "nice": false, "zero": false}, "axis": {"orient": "left", "values": [1000, 2000, 3000, 4000, 5000, 6000, 7000, 8000], "tickCount": 30, "format": ",d", "grid": true, "gridColor": "#d9d9d9", "labelPadding": 7, "labelOverlap": false}}, "color": {"datum": "POY 元/吨"}}},
      {"data": {"name": "poy_pta"}, "mark": {"type": "line", "strokeWidth": 2.5}, "encoding": {"x": {"field": "d", "type": "temporal", "title": null}, "y": {"field": "v", "type": "quantitative", "title": null}, "color": {"datum": "PTA价格 元/吨"}}},
      {"data": {"name": "poy_meg"}, "mark": {"type": "line", "strokeWidth": 2.5}, "encoding": {"x": {"field": "d", "type": "temporal", "title": null}, "y": {"field": "v", "type": "quantitative", "title": null}, "color": {"datum": "MEG 元/吨"}}}
     ]}
    ],
    "resolve": {"scale": {"y": "independent"}}},
   {"data": {"values": [{}]}, "width": 291, "height": 1, "title": {"text": "资料来源：Wind，卓创资讯，国海证券研究所", "orient": "bottom", "anchor": "start", "frame": "bounds", "fontSize": 13.5, "fontWeight": "normal", "dx": 10, "offset": 5}, "mark": {"type": "rule", "color": "#404040", "strokeWidth": 1.5}, "encoding": {"x": {"datum": -57, "type": "quantitative", "scale": {"domain": [0, 291], "nice": false, "zero": false}, "axis": null}, "x2": {"datum": 355}, "y": {"datum": 0, "type": "quantitative", "scale": {"domain": [0, 1]}, "axis": null}}}
  ]},
  {"spacing": 11,
   "title": {"text": "图 63：涤纶长丝库存天数（天）", "anchor": "start", "frame": "bounds", "fontSize": 16.5, "fontWeight": "bold", "dx": 15, "offset": 5},
   "vconcat": [
   {"data": {"values": [{}]}, "width": 334, "height": 1, "title": {"text": " ", "orient": "bottom", "anchor": "start", "frame": "bounds", "fontSize": 1, "offset": 0}, "mark": {"type": "rule", "color": "#000000", "strokeWidth": 1.5}, "encoding": {"x": {"datum": -41, "type": "quantitative", "scale": {"domain": [0, 334], "nice": false, "zero": false}, "axis": null}, "x2": {"datum": 363}, "y": {"datum": 0, "type": "quantitative", "scale": {"domain": [0, 1]}, "axis": null}}},
   {"width": 334, "height": 183, "data": {"name": "inv1"},
    "title": {"text": "涤纶长丝中国周度库存天数", "anchor": "middle", "frame": "group", "fontSize": 11, "fontWeight": "bold", "offset": 9},
    "mark": {"type": "area", "color": "#a6a6a6"},
    "encoding": {
     "x": {"field": "d", "type": "temporal", "title": " ", "scale": {"type": "utc", "nice": false, "domain": [{"year": 2017, "month": 11, "date": 1, "utc": true}, {"year": 2026, "month": 3, "date": 5, "utc": true}]}, "axis": {"format": "%Y/%m", "values": [{"year": 2017, "month": 11, "date": 1, "utc": true}, {"year": 2018, "month": 11, "date": 1, "utc": true}, {"year": 2019, "month": 11, "date": 1, "utc": true}, {"year": 2020, "month": 11, "date": 1, "utc": true}, {"year": 2021, "month": 11, "date": 1, "utc": true}, {"year": 2022, "month": 11, "date": 1, "utc": true}, {"year": 2023, "month": 11, "date": 1, "utc": true}, {"year": 2024, "month": 11, "date": 1, "utc": true}, {"year": 2025, "month": 11, "date": 1, "utc": true}], "labelAngle": 0, "labelFontSize": 8.5, "labelPadding": 3, "ticks": true, "tickSize": 3, "tickColor": "#bfbfbf", "domain": true, "domainColor": "#d9d9d9", "labelOverlap": false, "labelFlush": false, "titleFontSize": 1, "titlePadding": 2}},
     "y": {"field": "v", "type": "quantitative", "title": null, "scale": {"domain": [0, 40], "nice": false}, "axis": {"values": [0, 5, 10, 15, 20, 25, 30, 35, 40], "tickCount": 30, "grid": true, "gridColor": "#d9d9d9", "labelPadding": 6, "labelOverlap": false}}
    }},
   {"data": {"values": [{}]}, "width": 334, "height": 1, "title": {"text": "资料来源：卓创资讯，国海证券研究所", "orient": "bottom", "anchor": "start", "frame": "bounds", "fontSize": 13.5, "fontWeight": "normal", "dx": 15, "offset": 5}, "mark": {"type": "rule", "color": "#404040", "strokeWidth": 1.5}, "encoding": {"x": {"datum": -41, "type": "quantitative", "scale": {"domain": [0, 334], "nice": false, "zero": false}, "axis": null}, "x2": {"datum": 363}, "y": {"datum": 0, "type": "quantitative", "scale": {"domain": [0, 1]}, "axis": null}}}
  ]}
 ], "spacing": 0, "resolve": {"scale": {"color": "independent"}, "legend": {"color": "independent"}}},
 {"hconcat": [
  {"spacing": 13, "resolve": {"scale": {"color": "independent"}, "legend": {"color": "independent"}},
   "title": {"text": "图 64：涤纶长丝 FDY 价格价差曲线", "anchor": "start", "frame": "bounds", "fontSize": 16.5, "fontWeight": "bold", "dx": 10, "offset": 5},
   "vconcat": [
   {"data": {"values": [{}]}, "width": 293, "height": 1, "title": {"text": " ", "orient": "bottom", "anchor": "start", "frame": "bounds", "fontSize": 1, "offset": 0}, "mark": {"type": "rule", "color": "#000000", "strokeWidth": 1.5}, "encoding": {"x": {"datum": -58, "type": "quantitative", "scale": {"domain": [0, 293], "nice": false, "zero": false}, "axis": null}, "x2": {"datum": 354}, "y": {"datum": 0, "type": "quantitative", "scale": {"domain": [0, 1]}, "axis": null}}},
   {"width": 293, "height": 145,
    "title": {"text": "涤纶长丝FDY价格价差曲线", "anchor": "middle", "frame": "group", "fontSize": 11.5, "fontWeight": "bold", "offset": 10},
    "layer": [
     {"data": {"name": "fdy_s"}, "layer": [
      {"mark": {"type": "area"}, "encoding": {
        "x": {"field": "d", "type": "temporal", "title": null, "scale": {"type": "utc", "nice": false, "domain": [{"year": 2024, "month": 8, "date": 1, "utc": true}, {"year": 2026, "month": 2, "date": 27, "utc": true}]}, "axis": {"format": "%Y/%m", "tickCount": {"interval": "month", "step": 1}, "labelAngle": -90, "labelAlign": "right", "labelBaseline": "middle", "labelFontSize": 9, "labelPadding": 3, "ticks": true, "tickSize": 4, "tickColor": "#bfbfbf", "domain": true, "domainColor": "#d9d9d9", "labelOverlap": false, "labelFlush": false}},
        "y": {"field": "v", "type": "quantitative", "title": null, "scale": {"domain": [1000, 3500], "nice": false, "zero": false}, "axis": {"orient": "right", "values": [1000, 1500, 2000, 2500, 3000, 3500], "tickCount": 30, "format": ",d", "labelPadding": 5, "labelOverlap": false}},
        "y2": {"datum": 1000},
        "color": {"datum": "（右轴）涤纶FDY价差 元/吨", "scale": {"domain": ["（右轴）涤纶FDY价差 元/吨", "FDY 元/吨", "PTA价格 元/吨", "MEG 元/吨"], "range": ["#a6a6a6", "#00b0f0", "#ff0000", "#ffc000"]},
          "legend": {"title": null, "columns": 2, "rowPadding": 3, "offset": 2, "encode": {"symbols": {"update": {
            "shape": {"signal": "indexof(''+datum.value,'价差')>=0 ? 'M-1.7,-0.55H1.7V0.55H-1.7Z' : 'M-1.7,0H1.7'"},
            "fill": {"signal": "indexof(''+datum.value,'价差')>=0 ? '#a6a6a6' : 'transparent'"},
            "stroke": {"signal": "indexof(''+datum.value,'价差')>=0 ? '#000000' : indexof(''+datum.value,'PTA')>=0 ? '#ff0000' : indexof(''+datum.value,'MEG')>=0 ? '#ffc000' : '#00b0f0'"},
            "strokeWidth": {"signal": "indexof(''+datum.value,'价差')>=0 ? 0.8 : 3"}}}}}}}},
      {"mark": {"type": "line", "color": "#000000", "strokeWidth": 1}, "encoding": {"x": {"field": "d", "type": "temporal", "title": null}, "y": {"field": "v", "type": "quantitative", "title": null}}}
     ]},
     {"layer": [
      {"data": {"name": "fdy_p"}, "mark": {"type": "line", "strokeWidth": 2.5}, "encoding": {"x": {"field": "d", "type": "temporal", "title": null}, "y": {"field": "v", "type": "quantitative", "title": null, "scale": {"domain": [1000, 11000], "nice": false, "zero": false}, "axis": {"orient": "left", "values": [1000, 3000, 5000, 7000, 9000, 11000], "tickCount": 30, "format": ",d", "grid": true, "gridColor": "#d9d9d9", "labelPadding": 7, "labelOverlap": false}}, "color": {"datum": "FDY 元/吨"}}},
      {"data": {"name": "fdy_pta"}, "mark": {"type": "line", "strokeWidth": 2.5}, "encoding": {"x": {"field": "d", "type": "temporal", "title": null}, "y": {"field": "v", "type": "quantitative", "title": null}, "color": {"datum": "PTA价格 元/吨"}}},
      {"data": {"name": "fdy_meg"}, "mark": {"type": "line", "strokeWidth": 2.5}, "encoding": {"x": {"field": "d", "type": "temporal", "title": null}, "y": {"field": "v", "type": "quantitative", "title": null}, "color": {"datum": "MEG 元/吨"}}}
     ]}
    ],
    "resolve": {"scale": {"y": "independent"}}},
   {"data": {"values": [{}]}, "width": 293, "height": 1, "title": {"text": "资料来源：Wind，卓创资讯，国海证券研究所", "orient": "bottom", "anchor": "start", "frame": "bounds", "fontSize": 13.5, "fontWeight": "normal", "dx": 10, "offset": 5}, "mark": {"type": "rule", "color": "#404040", "strokeWidth": 1.5}, "encoding": {"x": {"datum": -58, "type": "quantitative", "scale": {"domain": [0, 293], "nice": false, "zero": false}, "axis": null}, "x2": {"datum": 354}, "y": {"datum": 0, "type": "quantitative", "scale": {"domain": [0, 1]}, "axis": null}}}
  ]},
  {"spacing": 13, "resolve": {"scale": {"color": "independent"}, "legend": {"color": "independent"}},
   "title": {"text": "图 65：涤纶长丝 DTY 价格价差曲线", "anchor": "start", "frame": "bounds", "fontSize": 16.5, "fontWeight": "bold", "dx": 15, "offset": 5},
   "vconcat": [
   {"data": {"values": [{}]}, "width": 294, "height": 1, "title": {"text": " ", "orient": "bottom", "anchor": "start", "frame": "bounds", "fontSize": 1, "offset": 0}, "mark": {"type": "rule", "color": "#000000", "strokeWidth": 1.5}, "encoding": {"x": {"datum": -60, "type": "quantitative", "scale": {"domain": [0, 294], "nice": false, "zero": false}, "axis": null}, "x2": {"datum": 344}, "y": {"datum": 0, "type": "quantitative", "scale": {"domain": [0, 1]}, "axis": null}}},
   {"width": 294, "height": 149,
    "title": {"text": "涤纶长丝DTY价格价差曲线", "anchor": "middle", "frame": "group", "fontSize": 11.5, "fontWeight": "bold", "offset": 6},
    "layer": [
     {"data": {"name": "dty_s"}, "layer": [
      {"mark": {"type": "area"}, "encoding": {
        "x": {"field": "d", "type": "temporal", "title": null, "scale": {"type": "utc", "nice": false, "domain": [{"year": 2024, "month": 8, "date": 1, "utc": true}, {"year": 2026, "month": 2, "date": 26, "utc": true}]}, "axis": {"format": "%Y/%m", "tickCount": {"interval": "month", "step": 1}, "labelAngle": -90, "labelAlign": "right", "labelBaseline": "middle", "labelFontSize": 9, "labelPadding": 3, "ticks": true, "tickSize": 4, "tickColor": "#bfbfbf", "domain": true, "domainColor": "#d9d9d9", "labelOverlap": false, "labelFlush": false}},
        "y": {"field": "v", "type": "quantitative", "title": null, "scale": {"domain": [-1500, 3000], "nice": false, "zero": false}, "axis": {"orient": "right", "values": [-1500, -1000, -500, 0, 500, 1000, 1500, 2000, 2500, 3000], "tickCount": 30, "format": ",d", "labelPadding": 5, "labelOverlap": false}},
        "y2": {"datum": 0},
        "color": {"datum": "（右轴）涤纶DTY价差 元/吨", "scale": {"domain": ["（右轴）涤纶DTY价差 元/吨", "DTY 元/吨", "PTA价格 元/吨", "MEG 元/吨"], "range": ["#a6a6a6", "#00b0f0", "#ff0000", "#ffc000"]},
          "legend": {"title": null, "columns": 2, "rowPadding": 1, "offset": 4, "encode": {"symbols": {"update": {
            "shape": {"signal": "indexof(''+datum.value,'价差')>=0 ? 'M-1.7,-0.55H1.7V0.55H-1.7Z' : 'M-1.7,0H1.7'"},
            "fill": {"signal": "indexof(''+datum.value,'价差')>=0 ? '#a6a6a6' : 'transparent'"},
            "stroke": {"signal": "indexof(''+datum.value,'价差')>=0 ? '#000000' : indexof(''+datum.value,'PTA')>=0 ? '#ff0000' : indexof(''+datum.value,'MEG')>=0 ? '#ffc000' : '#00b0f0'"},
            "strokeWidth": {"signal": "indexof(''+datum.value,'价差')>=0 ? 0.8 : 3"}}}}}}}},
      {"mark": {"type": "line", "color": "#000000", "strokeWidth": 1}, "encoding": {"x": {"field": "d", "type": "temporal", "title": null}, "y": {"field": "v", "type": "quantitative", "title": null}}},
      {"mark": {"type": "rule", "color": "#000000", "strokeWidth": 1}, "encoding": {"y": {"datum": 0, "type": "quantitative"}}}
     ]},
     {"layer": [
      {"data": {"name": "dty_p"}, "mark": {"type": "line", "strokeWidth": 2.5}, "encoding": {"x": {"field": "d", "type": "temporal", "title": null}, "y": {"field": "v", "type": "quantitative", "title": null, "scale": {"domain": [2000, 9000], "nice": false, "zero": false}, "axis": {"orient": "left", "values": [2000, 3000, 4000, 5000, 6000, 7000, 8000, 9000], "tickCount": 30, "format": ",d", "grid": true, "gridColor": "#d9d9d9", "labelPadding": 7, "labelOverlap": false}}, "color": {"datum": "DTY 元/吨"}}},
      {"data": {"name": "dty_pta"}, "mark": {"type": "line", "strokeWidth": 2.5}, "encoding": {"x": {"field": "d", "type": "temporal", "title": null}, "y": {"field": "v", "type": "quantitative", "title": null}, "color": {"datum": "PTA价格 元/吨"}}},
      {"data": {"name": "dty_meg"}, "mark": {"type": "line", "strokeWidth": 2.5}, "encoding": {"x": {"field": "d", "type": "temporal", "title": null}, "y": {"field": "v", "type": "quantitative", "title": null}, "color": {"datum": "MEG 元/吨"}}}
     ]}
    ],
    "resolve": {"scale": {"y": "independent"}}},
   {"data": {"values": [{}]}, "width": 294, "height": 1, "title": {"text": "资料来源：Wind，卓创资讯，国海证券研究所", "orient": "bottom", "anchor": "start", "frame": "bounds", "fontSize": 13.5, "fontWeight": "normal", "dx": 15, "offset": 5}, "mark": {"type": "rule", "color": "#404040", "strokeWidth": 1.5}, "encoding": {"x": {"datum": -60, "type": "quantitative", "scale": {"domain": [0, 294], "nice": false, "zero": false}, "axis": null}, "x2": {"datum": 344}, "y": {"datum": 0, "type": "quantitative", "scale": {"domain": [0, 1]}, "axis": null}}}
  ]}
 ], "spacing": 0, "resolve": {"scale": {"color": "independent"}, "legend": {"color": "independent"}}},
 {"hconcat": [
  {"spacing": 16, "resolve": {"scale": {"color": "independent"}, "legend": {"color": "independent"}},
   "title": {"text": "图 66：粘胶纤维价格价差曲线（元/吨）", "anchor": "start", "frame": "bounds", "fontSize": 16.5, "fontWeight": "bold", "dx": 10, "offset": 5},
   "vconcat": [
   {"data": {"values": [{}]}, "width": 297, "height": 1, "title": {"text": " ", "orient": "bottom", "anchor": "start", "frame": "bounds", "fontSize": 1, "offset": 0}, "mark": {"type": "rule", "color": "#000000", "strokeWidth": 1.5}, "encoding": {"x": {"datum": -55, "type": "quantitative", "scale": {"domain": [0, 297], "nice": false, "zero": false}, "axis": null}, "x2": {"datum": 357}, "y": {"datum": 0, "type": "quantitative", "scale": {"domain": [0, 1]}, "axis": null}}},
   {"width": 297, "height": 136,
    "title": {"text": "粘胶短纤价格价差曲线", "anchor": "middle", "frame": "group", "fontSize": 11.5, "fontWeight": "bold", "offset": 12},
    "layer": [
     {"data": {"name": "vis_s"}, "layer": [
      {"mark": {"type": "area"}, "encoding": {
        "x": {"field": "d", "type": "temporal", "title": null, "scale": {"type": "utc", "nice": false, "domain": [{"year": 2024, "month": 8, "date": 1, "utc": true}, {"year": 2026, "month": 2, "date": 25, "utc": true}]}, "axis": {"format": "%Y/%m", "tickCount": {"interval": "month", "step": 1}, "labelAngle": -90, "labelAlign": "right", "labelBaseline": "middle", "labelFontSize": 9, "labelPadding": 3, "ticks": true, "tickSize": 4, "tickColor": "#bfbfbf", "domain": true, "domainColor": "#d9d9d9", "labelOverlap": false, "labelFlush": false}},
        "y": {"field": "v", "type": "quantitative", "title": null, "scale": {"domain": [3000, 7000], "nice": false, "zero": false}, "axis": {"orient": "right", "values": [3000, 3500, 4000, 4500, 5000, 5500, 6000, 6500, 7000], "tickCount": 30, "format": "d", "labelPadding": 5, "labelOverlap": false}},
        "y2": {"datum": 3000},
        "color": {"datum": "（右轴）粘胶短纤价差 元/吨", "scale": {"domain": ["（右轴）粘胶短纤价差 元/吨", "粘胶短纤", "溶解浆"], "range": ["#a6a6a6", "#00b0f0", "#ff0000"]},
          "legend": {"title": null, "columns": 3, "offset": 11, "padding": 3, "columnPadding": 2, "labelFontSize": 9.5, "encode": {"symbols": {"update": {
            "shape": {"signal": "indexof(''+datum.value,'价差')>=0 ? 'M-1.7,-0.55H1.7V0.55H-1.7Z' : 'M-1.7,0H1.7'"},
            "fill": {"signal": "indexof(''+datum.value,'价差')>=0 ? '#a6a6a6' : 'transparent'"},
            "stroke": {"signal": "indexof(''+datum.value,'价差')>=0 ? '#000000' : indexof(''+datum.value,'溶解')>=0 ? '#ff0000' : '#00b0f0'"},
            "strokeWidth": {"signal": "indexof(''+datum.value,'价差')>=0 ? 0.8 : 3"}}}}}}}},
      {"mark": {"type": "line", "color": "#000000", "strokeWidth": 1}, "encoding": {"x": {"field": "d", "type": "temporal", "title": null}, "y": {"field": "v", "type": "quantitative", "title": null}}}
     ]},
     {"layer": [
      {"data": {"name": "vis_p"}, "mark": {"type": "line", "strokeWidth": 2.5}, "encoding": {"x": {"field": "d", "type": "temporal", "title": null}, "y": {"field": "v", "type": "quantitative", "title": null, "scale": {"domain": [0, 16000], "nice": false}, "axis": {"orient": "left", "values": [0, 2000, 4000, 6000, 8000, 10000, 12000, 14000, 16000], "tickCount": 30, "format": "d", "grid": true, "gridColor": "#d9d9d9", "domain": true, "domainColor": "#bfbfbf", "labelPadding": 7, "labelFontSize": 10.5, "labelOverlap": false}}, "color": {"datum": "粘胶短纤"}}},
      {"data": {"name": "vis_pulp"}, "mark": {"type": "line", "strokeWidth": 2.5}, "encoding": {"x": {"field": "d", "type": "temporal", "title": null}, "y": {"field": "v", "type": "quantitative", "title": null}, "color": {"datum": "溶解浆"}}}
     ]}
    ],
    "resolve": {"scale": {"y": "independent"}}},
   {"data": {"values": [{}]}, "width": 297, "height": 1, "title": {"text": "资料来源：Wind，卓创资讯，国海证券研究所", "orient": "bottom", "anchor": "start", "frame": "bounds", "fontSize": 13.5, "fontWeight": "normal", "dx": 10, "offset": 5}, "mark": {"type": "rule", "color": "#404040", "strokeWidth": 1.5}, "encoding": {"x": {"datum": -55, "type": "quantitative", "scale": {"domain": [0, 297], "nice": false, "zero": false}, "axis": null}, "x2": {"datum": 357}, "y": {"datum": 0, "type": "quantitative", "scale": {"domain": [0, 1]}, "axis": null}}}
  ]},
  {"spacing": 11,
   "title": {"text": "图 67：粘胶纤维库存天数（天）", "anchor": "start", "frame": "bounds", "fontSize": 16.5, "fontWeight": "bold", "dx": 15, "offset": 5},
   "vconcat": [
   {"data": {"values": [{}]}, "width": 330, "height": 1, "title": {"text": " ", "orient": "bottom", "anchor": "start", "frame": "bounds", "fontSize": 1, "offset": 0}, "mark": {"type": "rule", "color": "#000000", "strokeWidth": 1.5}, "encoding": {"x": {"datum": -51, "type": "quantitative", "scale": {"domain": [0, 330], "nice": false, "zero": false}, "axis": null}, "x2": {"datum": 353}, "y": {"datum": 0, "type": "quantitative", "scale": {"domain": [0, 1]}, "axis": null}}},
   {"width": 330, "height": 183, "data": {"name": "inv2"},
    "title": {"text": "粘胶短纤中国周度库存天数", "anchor": "middle", "frame": "group", "fontSize": 10.5, "fontWeight": "bold", "offset": 10},
    "mark": {"type": "area", "color": "#a6a6a6"},
    "encoding": {
     "x": {"field": "d", "type": "temporal", "title": " ", "scale": {"type": "utc", "nice": false, "domain": [{"year": 2015, "month": 2, "date": 1, "utc": true}, {"year": 2026, "month": 3, "date": 1, "utc": true}]}, "axis": {"format": "%Y/%m", "values": [{"year": 2015, "month": 2, "date": 1, "utc": true}, {"year": 2016, "month": 2, "date": 1, "utc": true}, {"year": 2017, "month": 2, "date": 1, "utc": true}, {"year": 2018, "month": 2, "date": 1, "utc": true}, {"year": 2019, "month": 2, "date": 1, "utc": true}, {"year": 2020, "month": 2, "date": 1, "utc": true}, {"year": 2021, "month": 2, "date": 1, "utc": true}, {"year": 2022, "month": 2, "date": 1, "utc": true}, {"year": 2023, "month": 2, "date": 1, "utc": true}, {"year": 2024, "month": 2, "date": 1, "utc": true}, {"year": 2025, "month": 2, "date": 1, "utc": true}, {"year": 2026, "month": 2, "date": 1, "utc": true}], "labelAngle": -45, "labelAlign": "right", "labelBaseline": "middle", "labelFontSize": 8, "labelPadding": 3, "ticks": true, "tickSize": 3, "tickColor": "#bfbfbf", "domain": true, "domainColor": "#d9d9d9", "labelOverlap": false, "labelFlush": false, "titleFontSize": 1, "titlePadding": 7}},
     "y": {"field": "v", "type": "quantitative", "title": null, "scale": {"domain": [0, 40], "nice": false}, "axis": {"values": [0, 5, 10, 15, 20, 25, 30, 35, 40], "tickCount": 30, "grid": true, "gridColor": "#d9d9d9", "labelPadding": 8, "labelFontSize": 10, "labelOverlap": false}}
    }},
   {"data": {"values": [{}]}, "width": 330, "height": 1, "title": {"text": "资料来源：Wind，卓创资讯，国海证券研究所", "orient": "bottom", "anchor": "start", "frame": "bounds", "fontSize": 13.5, "fontWeight": "normal", "dx": 15, "offset": 5}, "mark": {"type": "rule", "color": "#404040", "strokeWidth": 1.5}, "encoding": {"x": {"datum": -51, "type": "quantitative", "scale": {"domain": [0, 330], "nice": false, "zero": false}, "axis": null}, "x2": {"datum": 353}, "y": {"datum": 0, "type": "quantitative", "scale": {"domain": [0, 1]}, "axis": null}}}
  ]}
 ], "spacing": 0, "resolve": {"scale": {"color": "independent"}, "legend": {"color": "independent"}}}
]
}
